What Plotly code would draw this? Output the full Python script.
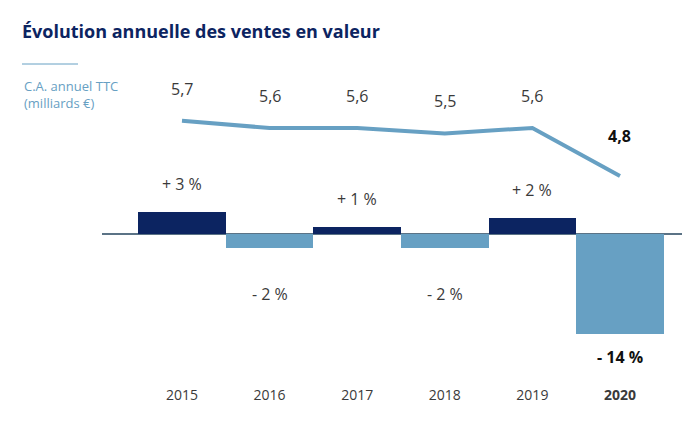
import plotly.graph_objects as go

# chart data
years = ["2015", "2016", "2017", "2018", "2019", "2020"]
ca_values = [5.74, 5.62, 5.62, 5.53, 5.62, 4.82]      # C.A. annuel TTC, milliards €
growth = [3.0, -1.9, 1.0, -2.0, 2.2, -13.9]            # évolution annuelle, %

NAVY = "#0c2461"
LIGHT = "#67a0c3"
TXT = "#3a3a3a"
FONT = "Open Sans"

xs = list(range(len(years)))
last = len(years) - 1

# page body has an 8px margin, so the plot box is nudged up/left to compensate
L, T, W, H = 94, 52, 580, 325

fig = go.Figure()

fig.add_trace(go.Bar(
    x=xs, y=growth, width=1.0,
    marker=dict(color=[NAVY if v > 0 else LIGHT for v in growth], line=dict(width=0)),
    hoverinfo="skip", yaxis="y",
))

fig.add_trace(go.Scatter(
    x=xs, y=ca_values, mode="lines",
    line=dict(color=LIGHT, width=4),
    hoverinfo="skip", yaxis="y2",
))

# line value labels
for i, v in enumerate(ca_values):
    t = f"{v:.1f}".replace(".", ",")
    fig.add_annotation(x=i, y=v, xref="x", yref="y2", yshift=40 if i == last else 32,
                       text=f"<b>{t}</b>" if i == last else t, showarrow=False,
                       font=dict(family=FONT, size=16, color="#111" if i == last else TXT))

# bar labels
for i, v in enumerate(growth):
    r = round(v)
    t = f"+ {r} %" if r > 0 else f"- {abs(r)} %"
    if v > 0:
        sh = 28
    elif v < -5:
        sh = -23
    else:
        sh = -46
    fig.add_annotation(x=i, y=v, xref="x", yref="y", yshift=sh,
                       text=f"<b>{t}</b>" if i == last else t, showarrow=False,
                       font=dict(family=FONT, size=16, color="#111" if i == last else TXT))

fig.update_layout(
    width=700, height=430,
    margin=dict(l=L, r=700 - L - W, t=T, b=430 - T - H),
    paper_bgcolor="white", plot_bgcolor="white",
    showlegend=False, bargap=0,
    xaxis=dict(range=[-0.913, 5.708], tickvals=xs,
               ticktext=[f"<b>{y}</b>" if i == last else y for i, y in enumerate(years)],
               tickfont=dict(family=FONT, size=14, color=TXT),
               showgrid=False, zeroline=False, showline=False, ticks=""),
    yaxis=dict(range=[-20.97, 24.17], showgrid=False, showticklabels=False,
               zeroline=True, zerolinecolor="#5b7386", zerolinewidth=1.5),
    yaxis2=dict(range=[1.337, 6.753], overlaying="y", showgrid=False,
                showticklabels=False, zeroline=False),
    title=dict(text="<b>Évolution annuelle des ventes en valeur</b>",
               xref="container", yref="container", x=14 / 700, xanchor="left",
               y=1 - 24 / 430, yanchor="middle",
               font=dict(family=FONT, size=18, color=NAVY)),
)

fig.add_shape(type="line", xref="paper", yref="paper", x0=-80 / W, x1=-24 / W,
              y0=(T + H - 56) / H, y1=(T + H - 56) / H, line=dict(color=LIGHT, width=1))
fig.add_annotation(xref="paper", yref="paper", x=-80 / W, y=(T + H - 67) / H,
                   xanchor="left", yanchor="top", align="left", showarrow=False,
                   text="C.A. annuel TTC<br>(milliards €)",
                   font=dict(family=FONT, size=13, color=LIGHT))

fig.write_html("out.html")
